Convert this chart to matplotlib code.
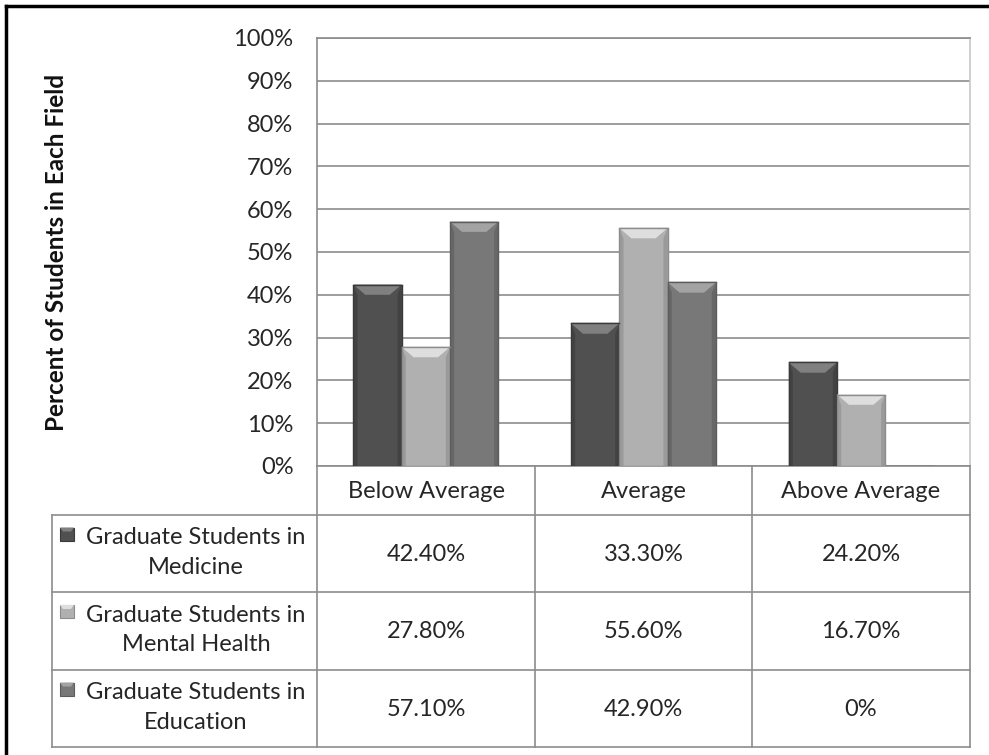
import numpy as np
import matplotlib.pyplot as plt
from matplotlib.patches import Polygon, Rectangle

categories = ['Below Average', 'Average', 'Above Average']
series_names = ['Graduate Students in\nMedicine',
                'Graduate Students in\nMental Health',
                'Graduate Students in\nEducation']
medicine = [42.4, 33.3, 24.2]
mental_health = [27.8, 55.6, 16.7]
education = [57.1, 42.9, 0.0]
cell_text = [['42.40%', '33.30%', '24.20%'],
             ['27.80%', '55.60%', '16.70%'],
             ['57.10%', '42.90%', '0%']]

series = [medicine, mental_health, education]
colors = ['#505050', '#b0b0b0', '#787878']
bevel_colors = ['#808080', '#dedede', '#a3a3a3']
side_colors = ['#3a3a3a', '#8c8c8c', '#5c5c5c']

plt.rcParams['font.family'] = ['Lato', 'DejaVu Sans']
FS = 17
TC = '#262626'
W, H = 989, 755
fig = plt.figure(figsize=(W / 100, H / 100), dpi=100)

# plot area in pixel coords
px0, px1, py_top, py_bot = 317, 970, 38, 466
ax = fig.add_axes([px0 / W, 1 - py_bot / H, (px1 - px0) / W, (py_bot - py_top) / H])
ax.set_xlim(-0.5, 2.5)
ax.set_ylim(0, 100)
ax.set_yticks(np.arange(0, 101, 10))
ax.set_yticklabels([f'{v}%' for v in range(0, 101, 10)], fontsize=FS, color=TC)
ax.set_xticks([])
ax.tick_params(axis='y', length=0, pad=17)
ax.grid(axis='y', color='#8c8c8c', linewidth=1.2)
ax.set_axisbelow(True)
for s in ['left', 'right', 'top', 'bottom']:
    ax.spines[s].set_color('#8c8c8c')
    ax.spines[s].set_linewidth(1.2)
ax.spines['right'].set_color('#c8c8c8')
ax.set_ylabel('Percent of Students in Each Field', fontsize=17.5, fontweight='bold',
              color='#111111')
ax.yaxis.set_label_coords(-0.382, 0.5)

bw = 0.222
x = np.arange(len(categories))
bevel_h = 2.4
bevel_w = 0.055
for i, vals in enumerate(series):
    bars = ax.bar(x + (i - 1) * bw, vals, bw, color=colors[i],
                  edgecolor=side_colors[i], linewidth=1.0, zorder=3)
    for b in bars:
        h = b.get_height()
        if h <= 0:
            continue
        x0 = b.get_x()
        x1 = x0 + b.get_width()
        # bevelled top
        ax.add_patch(Polygon([[x0, h], [x1, h], [x1 - bevel_w, h - bevel_h],
                              [x0 + bevel_w, h - bevel_h]], closed=True,
                             facecolor=bevel_colors[i], edgecolor='none', zorder=4))
        # darker side strips
        ax.add_patch(Polygon([[x0, 0], [x0, h], [x0 + bevel_w * 0.35, h - bevel_h],
                              [x0 + bevel_w * 0.35, 0]], closed=True,
                             facecolor=side_colors[i], edgecolor='none', alpha=0.6, zorder=4))
        ax.add_patch(Polygon([[x1, 0], [x1, h], [x1 - bevel_w * 0.35, h - bevel_h],
                              [x1 - bevel_w * 0.35, 0]], closed=True,
                             facecolor=side_colors[i], edgecolor='none', alpha=0.6, zorder=4))
        ax.plot([x0, x1], [h, h], color=side_colors[i], lw=1.0, zorder=5)

# data table underneath, drawn on a full-figure overlay in pixels
ov = fig.add_axes([0, 0, 1, 1])
ov.set_xlim(0, W)
ov.set_ylim(H, 0)
ov.axis('off')
lc = '#8c8c8c'
col_x = [52, 317, 535, 752, 970]
row_y = [466, 515, 592, 670, 747]

for cx in col_x[1:]:
    ov.plot([cx, cx], [row_y[0], row_y[-1]], color=lc, lw=1.2)
ov.plot([col_x[0], col_x[0]], [row_y[1], row_y[-1]], color=lc, lw=1.2)
for ry in row_y[1:]:
    ov.plot([col_x[0], col_x[-1]], [ry, ry], color=lc, lw=1.2)

for j, cat in enumerate(categories):
    ov.text((col_x[j + 1] + col_x[j + 2]) / 2, (row_y[0] + row_y[1]) / 2 + 1, cat,
            ha='center', va='center', fontsize=FS, color=TC)

for i, name in enumerate(series_names):
    yc = (row_y[i + 1] + row_y[i + 2]) / 2
    ov.text(196, yc - 1, name, ha='center', va='center', fontsize=FS,
            color=TC, multialignment='center', linespacing=1.5)
    ov.add_patch(Rectangle((60, yc - 26), 14, 13, facecolor=colors[i],
                           edgecolor=side_colors[i], lw=0.8))
    ov.add_patch(Polygon([[60, yc - 26], [74, yc - 26], [71, yc - 22], [63, yc - 22]],
                         closed=True, facecolor=bevel_colors[i], edgecolor='none'))
    for j in range(len(categories)):
        ov.text((col_x[j + 1] + col_x[j + 2]) / 2, yc + 1, cell_text[i][j],
                ha='center', va='center', fontsize=FS, color=TC)

# outer frame (left and top edges)
ov.plot([6, 6], [6, H], color='black', lw=2.5)
ov.plot([6, W], [6, 6], color='black', lw=2.5)

fig.savefig('out.png', dpi=100, facecolor='white')
